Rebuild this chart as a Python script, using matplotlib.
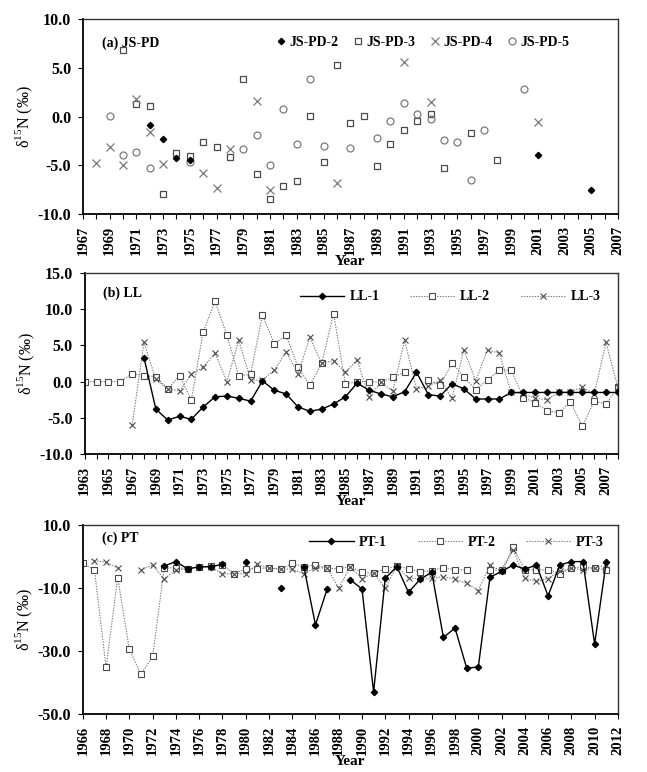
import numpy as np
import matplotlib
matplotlib.use("Agg")
import matplotlib.pyplot as plt
from matplotlib.ticker import MultipleLocator, FormatStrFormatter

nan = np.nan

# panel (a) JS-PD, scattered samples
pd2_years = [1972, 1973, 1974, 1975, 2001, 2005]
pd2_vals = [-0.9, -2.3, -4.2, -4.4, -3.9, -7.5]

pd3_years = [1970, 1971, 1972, 1973, 1974, 1975, 1976, 1977, 1978, 1979, 1980, 1981, 1982, 1983,
             1984, 1985, 1986, 1987, 1988, 1989, 1990, 1991, 1992, 1993, 1994, 1996, 1998]
pd3_vals = [6.9, 1.3, 1.1, -7.9, -3.7, -4.0, -2.6, -3.1, -4.1, 3.9, -5.9, -8.5, -7.1, -6.6,
            0.1, -4.7, 5.3, -0.6, 0.1, -5.1, -2.8, -1.4, -0.4, 0.3, -5.3, -1.7, -4.4]

pd4_years = [1968, 1969, 1970, 1971, 1972, 1973, 1976, 1977, 1978, 1980, 1981, 1986, 1991, 1993, 2001]
pd4_vals = [-4.8, -3.1, -5.0, 1.8, -1.6, -4.9, -5.8, -7.3, -3.3, 1.6, -7.5, -6.8, 5.6, 1.5, -0.5]

pd5_years = [1969, 1970, 1971, 1972, 1975, 1979, 1980, 1981, 1982, 1983, 1984, 1985, 1987, 1989,
             1990, 1991, 1992, 1993, 1994, 1995, 1996, 1997, 2000]
pd5_vals = [0.1, -3.9, -3.6, -5.3, -4.7, -3.3, -1.9, -5.0, 0.8, -2.8, 3.9, -3.0, -3.2, -2.2,
            -0.4, 1.4, 0.3, -0.2, -2.4, -2.6, -6.5, -1.4, 2.8]

# panel (b) LL, 1963-2008
ll_years = list(range(1963, 2009))
ll1 = [nan, nan, nan, nan, nan, 3.3, -3.8, -5.3, -4.8, -5.2, -3.5, -2.1, -2.0, -2.3, -2.7, 0.1,
       -1.2, -1.7, -3.5, -4.1, -3.8, -3.1, -2.1, -0.2, -1.2, -1.7, -2.1, -1.4, 1.3, -1.8, -2.0,
       -0.3, -1.0, -2.4, -2.4, -2.4, -1.5, -1.5, -1.5, -1.5, -1.5, -1.5, -1.5, -1.5, -1.5, -1.5]
ll2 = [0.0, 0.0, 0.0, 0.0, 1.1, 0.8, 0.7, -1.0, 0.8, -2.5, 6.9, 11.1, 6.4, 0.8, 1.0, 9.2,
       5.2, 6.4, 2.0, -0.5, 2.5, 9.4, -0.3, 0.0, 0.0, -0.1, 0.6, 1.3, nan, 0.2, -0.5,
       2.6, 0.6, -1.1, 0.2, 1.6, 1.6, -2.2, -2.9, -4.0, -4.3, -2.8, -6.2, -2.7, -3.1, -0.8]
ll3 = [nan, nan, nan, nan, -6.0, 5.4, 0.3, -1.0, -1.3, 1.0, 2.0, 3.9, 0.0, 5.7, 0.2, 0.2,
       1.6, 4.1, 1.1, 6.1, 2.5, 2.9, 1.3, 3.0, -2.1, -0.1, -1.3, 5.7, -1.0, -0.6, 0.2,
       -2.3, 4.4, 0.1, 4.4, 3.9, -1.5, -1.7, -2.3, -2.5, -1.5, -1.4, -0.8, -1.7, 5.4, -0.8]

# panel (c) PT, 1966-2011
pt_years = list(range(1966, 2012))
pt1 = [nan, nan, nan, nan, nan, nan, nan, -3.0, -1.6, -3.9, -3.3, -3.2, -2.5, nan, -1.6, nan,
       nan, -10.0, nan, -3.2, -21.7, -10.4, nan, -7.4, -10.3, -43.0, -6.9, -3.2, -11.4, -7.2,
       -5.0, -25.7, -22.7, -35.4, -35.1, -6.6, -4.7, -2.7, -4.0, -2.7, -12.5, -2.7, -1.6, -1.6,
       -27.8, -1.6]
pt2 = [-2.2, -4.2, -35.2, -6.7, -29.5, -37.4, -31.7, -3.7, -3.5, -3.9, -3.2, -3.1, -2.7, -5.4,
       -3.9, -3.8, -3.6, -4.0, -2.2, -3.3, -2.6, -3.7, -3.9, -3.2, -5.0, -5.3, -3.9, -3.0, -3.9,
       -4.8, -4.5, -3.5, -4.2, -4.2, nan, -4.2, -4.4, 2.9, -4.2, -4.2, -4.2, -5.5, -3.7, -3.2,
       -3.7, -4.2]
pt3 = [nan, -1.3, -1.8, -3.7, nan, -4.3, -2.7, -7.1, -4.3, -3.9, -3.3, -3.3, -5.5, -5.4, -5.5,
       -2.4, -3.7, -4.0, -4.0, -5.5, -3.5, -3.7, -10.0, -3.2, -7.0, -5.3, -10.0, -3.0, -6.9, -6.9,
       -6.9, -6.4, -7.2, -8.5, -10.8, -2.7, -4.7, 2.1, -6.9, -7.9, -7.0, -4.7, -3.7, -4.2, -3.7,
       -2.7]

a_yticks = [-10, -5, 0, 5, 10]
b_yticks = [-10, -5, 0, 5, 10, 15]
c_yticks = [-50, -30, -10, 10]

plt.rcParams["font.family"] = ["Liberation Serif", "DejaVu Serif"]
plt.rcParams["mathtext.fontset"] = "custom"
plt.rcParams["mathtext.rm"] = "Liberation Serif"

GRAY = "#7a7a7a"
DARK = "#4a4a4a"
DOT = (0, (1.2, 1.2))
leg_fs = 10


def style_axis(ax, x0, x1, xlast, yticks, minor_every_year=True):
    ax.set_xlim(x0, x1)
    ax.set_ylim(yticks[0], yticks[-1])
    ax.set_xticks(np.arange(x0, xlast + 1, 2))
    if minor_every_year:
        ax.xaxis.set_minor_locator(MultipleLocator(1))
    ax.set_yticks(yticks)
    ax.yaxis.set_major_formatter(FormatStrFormatter("%.1f"))
    ax.tick_params(axis="x", which="both", direction="out", length=3.5, width=0.8,
                   labelrotation=90, labelsize=10.5, pad=5)
    ax.tick_params(axis="y", direction="out", length=3.5, width=0.8, labelsize=11.5, pad=5)
    for lab in ax.get_xticklabels() + ax.get_yticklabels():
        lab.set_fontweight("bold")
    for s in ["left", "bottom"]:
        ax.spines[s].set_linewidth(1.3)
        ax.spines[s].set_color("black")
    for s in ["top", "right"]:
        ax.spines[s].set_linewidth(1.0)
        ax.spines[s].set_color("#333333")
    ax.set_xlabel("Year", fontsize=11, fontweight="bold", labelpad=0)
    ax.set_ylabel("δ$^{15}$N (‰)", fontsize=11.5, labelpad=2)


fig = plt.figure(figsize=(6.47, 7.72), dpi=100)

# (a)
ax1 = fig.add_axes([0.128, 0.7228, 0.827, 0.252])
ax1.plot(pd2_years, pd2_vals, "D", color="black", ms=3.2, ls="none", label="JS-PD-2", zorder=4)
ax1.plot(pd3_years, pd3_vals, "s", mfc="white", mec=DARK, mew=0.9, ms=5, ls="none", label="JS-PD-3")
ax1.plot(pd4_years, pd4_vals, "x", color=GRAY, mew=0.9, ms=5.5, ls="none", label="JS-PD-4")
ax1.plot(pd5_years, pd5_vals, "o", mfc="none", mec=GRAY, mew=0.9, ms=5, ls="none", label="JS-PD-5")
style_axis(ax1, 1967, 2007, 2007, a_yticks)
ax1.text(0.035, 0.88, "(a) JS-PD", transform=ax1.transAxes, fontsize=leg_fs, fontweight="bold",
         va="center")
ax1.legend(loc="center left", bbox_to_anchor=(0.35, 0.88), ncol=4, frameon=False,
           handlelength=0.6, handletextpad=0.3, columnspacing=1.1, borderpad=0,
           prop={"size": leg_fs, "weight": "bold"})

# (b)
ax2 = fig.add_axes([0.131, 0.4119, 0.824, 0.2345])
ax2.plot(ll_years, ll1, "-D", color="black", lw=1.0, ms=3.2, label="LL-1", zorder=4)
ax2.plot(ll_years, ll2, color=GRAY, ls=DOT, lw=0.8, marker="s", mfc="white", mec=DARK, mew=0.8,
         ms=4.5, label="LL-2")
ax2.plot(ll_years, ll3, color=GRAY, ls=DOT, lw=0.8, marker="x", mec=DARK, mew=0.8, ms=5,
         label="LL-3")
style_axis(ax2, 1963, 2008, 2007, b_yticks)
ax2.text(0.035, 0.89, "(b) LL", transform=ax2.transAxes, fontsize=leg_fs, fontweight="bold",
         va="center")
ax2.legend(loc="center left", bbox_to_anchor=(0.39, 0.868), ncol=3, frameon=False,
           handlelength=3.2, handletextpad=0.4, columnspacing=2.2, borderpad=0,
           prop={"size": leg_fs, "weight": "bold"})

# (c)
ax3 = fig.add_axes([0.128, 0.0751, 0.827, 0.2448])
ax3.plot(pt_years, pt1, "-D", color="black", lw=1.0, ms=3.2, label="PT-1", zorder=4)
ax3.plot(pt_years, pt2, color=GRAY, ls=DOT, lw=0.8, marker="s", mfc="white", mec=DARK, mew=0.8,
         ms=4.5, label="PT-2")
ax3.plot(pt_years, pt3, color=GRAY, ls=DOT, lw=0.8, marker="x", mec=DARK, mew=0.8, ms=5,
         label="PT-3")
style_axis(ax3, 1966, 2012, 2012, c_yticks, minor_every_year=False)
ax3.text(0.035, 0.93, "(c) PT", transform=ax3.transAxes, fontsize=leg_fs, fontweight="bold",
         va="center")
ax3.legend(loc="center left", bbox_to_anchor=(0.41, 0.91), ncol=3, frameon=False,
           handlelength=3.2, handletextpad=0.4, columnspacing=2.2, borderpad=0,
           prop={"size": leg_fs, "weight": "bold"})

fig.savefig("out.png", dpi=100)
